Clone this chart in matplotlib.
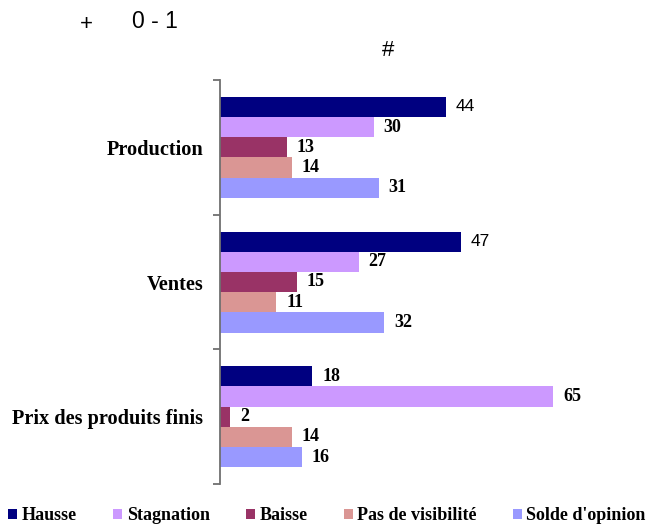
import matplotlib
matplotlib.use("Agg")
import matplotlib.pyplot as plt
import numpy as np

categories = ["Production", "Ventes", "Prix des produits finis"]
series_names = ["Hausse", "Stagnation", "Baisse", "Pas de visibilité", "Solde d'opinion"]
hausse = [44, 47, 18]
stagnation = [30, 27, 65]
baisse = [13, 15, 2]
pas_visibilite = [14, 11, 14]
solde = [31, 32, 16]
series_values = [hausse, stagnation, baisse, pas_visibilite, solde]
colors = ["#000080", "#CC99FF", "#993366", "#DA9694", "#9999FF"]

W, H = 656, 524
fig = plt.figure(figsize=(W / 100, H / 100), dpi=100)
ax = fig.add_axes([220 / W, 1 - 484 / H, 380 / W, 404 / H])

bh = 0.15
y = np.arange(len(categories))
serif = "Liberation Serif"
sans = "Liberation Sans"
for j, (name, vals, c) in enumerate(zip(series_names, series_values, colors)):
    pos = y + (j - 2) * bh
    ax.barh(pos, vals, height=bh, color=c, label=name, edgecolor="none")
    for k, (p, v) in enumerate(zip(pos, vals)):
        if j == 0 and k < 2:
            ax.annotate(str(v), (v, p), xytext=(7, 0), textcoords="offset points",
                        ha="left", va="center", fontsize=12.5, family=sans)
        else:
            ax.annotate(str(v), (v, p), xytext=(7, 0), textcoords="offset points",
                        ha="left", va="center", fontsize=13, family=serif, fontweight="bold")

ax.set_xlim(0, 380 / 5.13)
ax.set_ylim(2.5, -0.5)
for s in ["top", "right", "bottom"]:
    ax.spines[s].set_visible(False)
ax.spines["left"].set_color("#707070")
ax.spines["left"].set_linewidth(1.3)
ax.set_xticks([])
ax.set_yticks([-0.5, 0.5, 1.5, 2.5])
ax.set_yticklabels([])
ax.tick_params(axis="y", which="major", length=5, width=1.3, color="#707070", direction="out")
ax.set_yticks(y, minor=True)
ax.set_yticklabels(categories, minor=True, family=serif, fontweight="bold", fontsize=14.6)
ax.tick_params(axis="y", which="minor", length=0, pad=12)

fig.text(80 / W, 1 - 24 / H, "+", fontsize=16, family=sans, ha="left", va="center")
fig.text(132 / W, 1 - 22 / H, "0 - 1", fontsize=16.5, family=sans, ha="left", va="center")
fig.text(382 / W, 1 - 50 / H, "#", fontsize=16, family=sans, ha="left", va="center")

leg = fig.legend(loc="center", bbox_to_anchor=(327 / W, 1 - 516 / H), ncol=5, frameon=False,
                 prop={"family": serif, "weight": "bold", "size": 13},
                 handlelength=0.5, handleheight=0.5, handletextpad=0.25, columnspacing=2.0)

fig.savefig("out.png", dpi=100)
